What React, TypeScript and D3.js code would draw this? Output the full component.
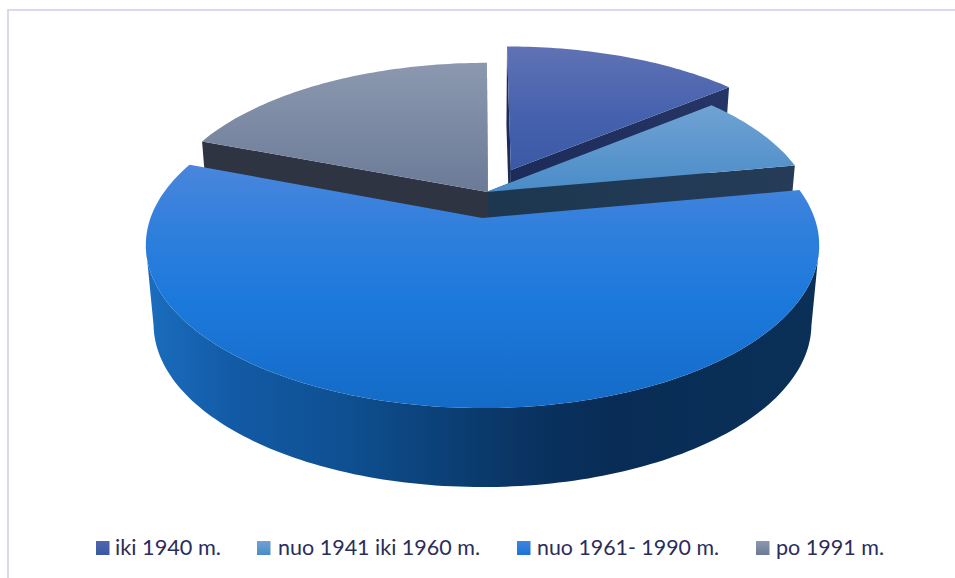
import * as d3 from "d3";

const categories = ["iki 1940 m.", "nuo 1941 iki 1960 m.", "nuo 1961- 1990 m.", "po 1991 m."];
const shares = [14.0, 8.1, 58.7, 19.2];

// Slice displacement on the ground plane, in radii of the pie.
const explodeU = [0.09, 0.012, 0, 0.016];
const explodeV = [-0.319, -0.169, 0, -0.169];

const topStops = [
  [["0%", "#6072b4"], ["55%", "#4662ae"], ["100%", "#3a59a4"]],
  [["0%", "#6fa2d3"], ["100%", "#4a8cc8"]],
  [["0%", "#4a86dc"], ["27%", "#2f7fdc"], ["56%", "#1c79dc"], ["100%", "#146bc7"]],
  [["0%", "#8b98af"], ["100%", "#6b7a97"]],
];
const topRange = [[46, 170], [107, 192], [165, 408], [64, 192]];
const wallColors = [
  ["#1c2b58", "#2a3a6b"],
  ["#1d3750", "#263c58"],
  ["#0a2f58", "#0a2f58"],
  ["#2e3441", "#303541"],
];
const legendSwatchX = [96, 257, 517, 756];
const legendTextX = [115, 278, 537, 776];
const legendTextW = [106, 202, 182, 108];
const legendTop = [["0%", "#5064ad"], ["100%", "#3a59a4"]];
const legendStops = [
  legendTop,
  [["0%", "#6fa2d3"], ["100%", "#4a8cc8"]],
  [["0%", "#3f84de"], ["100%", "#1a74d6"]],
  [["0%", "#8b98af"], ["100%", "#6b7a97"]],
];
const sideStops: [number, string][] = [
  [150, "#1a6cbd"], [230, "#135ba6"], [350, "#0e4f90"], [450, "#0b3f75"],
  [520, "#0a3463"], [610, "#082c55"], [820, "#0a3058"],
];

// Perspective projection of the pie plane onto the page.
const X0 = 482.5, Y0 = 218, A = 332, B = 158.5, K = 0.166, DEPTH = 79, TAPER = 0.977;

type Pt = [number, number];
const project = (u: number, v: number, lower = false): Pt => {
  const w = 1 - K * v;
  const x = X0 + (A * u) / w;
  const y = Y0 + (B * v) / w;
  return lower ? [X0 + (x - X0) * TAPER, y + DEPTH] : [x, y];
};

const pieLayout = d3.pie<number>().sort(null).startAngle(0).endAngle(2 * Math.PI);
const arcs = pieLayout(shares);
const outline = d3.line<Pt>().x((d) => d[0]).y((d) => d[1]);

const rimPoints = (i: number, from: number, to: number, lower = false): Pt[] => {
  const n = Math.max(4, Math.ceil(Math.abs(to - from) / 0.02));
  return d3.range(n + 1).map((j) => {
    const t = from + ((to - from) * j) / n;
    return project(explodeU[i] + Math.sin(t), explodeV[i] - Math.cos(t), lower);
  });
};
const hub = (i: number, lower = false) => project(explodeU[i], explodeV[i], lower);

const radialWall = (i: number, angle: number) => {
  const rimTop = rimPoints(i, angle, angle + 0.001)[0];
  const rimLow = rimPoints(i, angle, angle + 0.001, true)[0];
  return outline([hub(i), rimTop, rimLow, hub(i, true)]) + "Z";
};

// Outer face of a slice: only the stretch of rim between its left and right extremes faces the viewer.
const frontWall = (upper: Pt[], lower: Pt[]) => {
  const xs = upper.map((p) => p[0]);
  const a = d3.minIndex(xs);
  const b = d3.maxIndex(xs);
  const [from, to] = a < b ? [a, b] : [b, a];
  return outline([...upper.slice(from, to + 1), ...lower.slice(from, to + 1).reverse()]) + "Z";
};

const Stops = ({ stops }: { stops: string[][] }) => (
  <>
    {stops.map(([offset, color]) => (
      <stop key={offset} offset={offset} stopColor={color} />
    ))}
  </>
);

export default function App() {
  const order = [0, 1, 3, 2];
  const sideX = d3.scaleLinear().domain([sideStops[0][0], sideStops[sideStops.length - 1][0]]).range([0, 100]);
  return (
    <svg
      width={955}
      height={578}
      viewBox="0 0 955 578"
      style={{ position: "absolute", left: 0, top: 0, background: "#fff" }}
    >
      <defs>
        {arcs.map((a, i) => (
          <linearGradient
            key={i}
            id={`top${i}`}
            gradientUnits="userSpaceOnUse"
            x1={0}
            x2={0}
            y1={topRange[i][0]}
            y2={topRange[i][1]}
          >
            <Stops stops={topStops[i]} />
          </linearGradient>
        ))}
        {arcs.map((a, i) => (
          <linearGradient
            key={i}
            id={`wall${i}`}
            gradientUnits="userSpaceOnUse"
            x1={hub(i)[0]}
            x2={project(explodeU[i] + 1, explodeV[i])[0]}
            y1={0}
            y2={0}
          >
            <stop offset="0%" stopColor={wallColors[i][0]} />
            <stop offset="100%" stopColor={wallColors[i][1]} />
          </linearGradient>
        ))}
        <linearGradient
          id="side"
          gradientUnits="userSpaceOnUse"
          x1={sideStops[0][0]}
          x2={sideStops[sideStops.length - 1][0]}
          y1={0}
          y2={0}
        >
          {sideStops.map(([x, c]) => (
            <stop key={x} offset={`${sideX(x)}%`} stopColor={c} />
          ))}
        </linearGradient>
        {legendStops.map((s, i) => (
          <linearGradient key={i} id={`key${i}`} x1={0} x2={0} y1={0} y2={1}>
            <Stops stops={s} />
          </linearGradient>
        ))}
      </defs>

      <path d="M8 578V10H955" fill="none" stroke="#d9d9ef" strokeWidth={2} />

      {order.map((i) => {
        const a = arcs[i];
        const isMain = i === 2;
        const upperRim = rimPoints(i, a.startAngle, a.endAngle);
        const lowerRim = rimPoints(i, a.startAngle, a.endAngle, true);
        return (
          <g key={i}>
            {isMain ? (
              <path d={frontWall(upperRim, lowerRim)} fill="url(#side)" />
            ) : (
              <>
                <path d={radialWall(i, a.startAngle)} fill={`url(#wall${i})`} />
                <path d={radialWall(i, a.endAngle)} fill={`url(#wall${i})`} />
              </>
            )}
            <path d={outline([hub(i), ...upperRim]) + "Z"} fill={`url(#top${i})`} />
          </g>
        );
      })}

      {categories.map((label, i) => (
        <g key={label}>
          <rect x={legendSwatchX[i]} y={541} width={13.5} height={14} fill={`url(#key${i})`} />
          <text
            x={legendTextX[i]}
            y={555}
            fontFamily="Lato, 'Open Sans', sans-serif"
            fontSize={22}
            fill="#2a2d5c"
            textLength={legendTextW[i]}
            lengthAdjust="spacingAndGlyphs"
          >
            {label}
          </text>
        </g>
      ))}
    </svg>
  );
}
